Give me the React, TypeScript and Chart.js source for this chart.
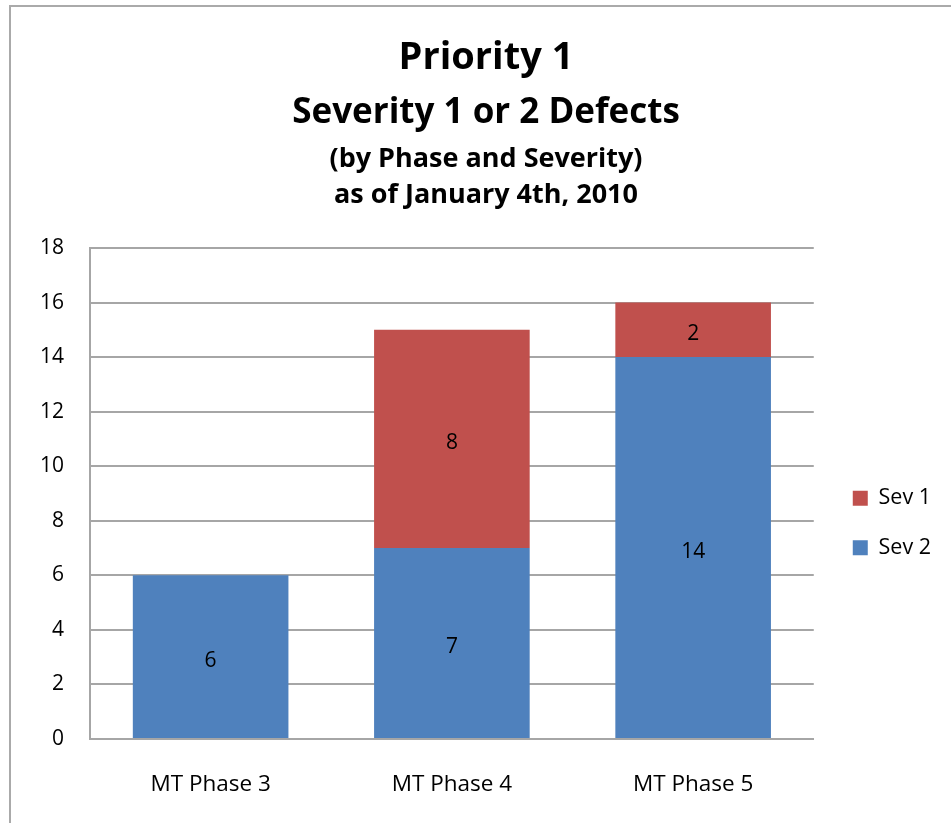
import React, { useEffect, useRef } from "react";
import { Chart, registerables } from "chart.js";

Chart.register(...registerables);

// ---- Data ----
const categories = ["MT Phase 3", "MT Phase 4", "MT Phase 5"];
const sev2Values: (number | null)[] = [6, 7, 14];
const sev1Values: (number | null)[] = [null, 8, 2];
const seriesNames = ["Sev 2", "Sev 1"];
const seriesColors = ["#4F81BD", "#C0504D"];
const titleLines = [
  "Priority 1",
  "Severity 1 or 2 Defects",
  "(by Phase and Severity)",
  "as of January 4th, 2010",
];
const yMin = 0;
const yMax = 18;
const yStep = 2;

const FONT = "'Open Sans', Lato, sans-serif";
const GRID = "#a6a6a6";

const titlePlugin = {
  id: "multiTitle",
  afterDraw(chart: any, _args: any, opts: any) {
    const ctx = chart.ctx;
    ctx.save();
    ctx.fillStyle = "#000";
    ctx.textAlign = "center";
    ctx.textBaseline = "alphabetic";
    opts.lines.forEach((line: string, i: number) => {
      ctx.font = `bold ${opts.sizes[i]}px ${FONT}`;
      ctx.fillText(line, chart.width / 2, opts.baselines[i]);
    });
    ctx.restore();
  },
};

const valueLabelPlugin = {
  id: "valueLabels",
  afterDatasetsDraw(chart: any, _args: any, opts: any) {
    const ctx = chart.ctx;
    ctx.save();
    ctx.font = `${opts.size}px ${FONT}`;
    ctx.fillStyle = "#000";
    ctx.textAlign = "center";
    ctx.textBaseline = "middle";
    chart.data.datasets.forEach((ds: any, di: number) => {
      const meta = chart.getDatasetMeta(di);
      if (meta.hidden) return;
      meta.data.forEach((el: any, i: number) => {
        const v = ds.data[i];
        if (v == null || v === 0) return;
        const p = el.getProps(["x", "y", "base"], true);
        ctx.fillText(String(v), p.x, (p.y + p.base) / 2 + opts.offset);
      });
    });
    ctx.restore();
  },
};

export default function App() {
  const canvasRef = useRef<HTMLCanvasElement | null>(null);

  useEffect(() => {
    if (!canvasRef.current) return;
    const chart = new Chart(canvasRef.current, {
      type: "bar",
      data: {
        labels: categories,
        datasets: [
          {
            label: seriesNames[0],
            data: sev2Values,
            backgroundColor: seriesColors[0],
            barPercentage: 0.645,
            categoryPercentage: 1,
          },
          {
            label: seriesNames[1],
            data: sev1Values,
            backgroundColor: seriesColors[1],
            barPercentage: 0.645,
            categoryPercentage: 1,
          },
        ],
      },
      options: {
        responsive: false,
        animation: false,
        devicePixelRatio: 1,
        layout: { padding: { top: 241, left: 0, right: 20, bottom: 39 } },
        plugins: {
          title: { display: false },
          tooltip: { enabled: false },
          legend: {
            position: "right",
            reverse: true,
            labels: {
              boxWidth: 15,
              boxHeight: 15,
              padding: 28,
              color: "#000",
              font: { family: FONT, size: 21.5 },
            },
          },
          multiTitle: {
            lines: titleLines,
            sizes: [38, 35, 27, 27],
            baselines: [62, 116, 160, 196],
          },
          valueLabels: { size: 21, offset: 4 },
        } as any,
        scales: {
          x: {
            stacked: true,
            grid: { display: false, drawTicks: false },
            border: { display: true, color: GRID, width: 2 },
            ticks: { color: "#000", font: { family: FONT, size: 22.5 }, padding: 32 },
            afterFit(s: any) {
              s.height = 59;
            },
          },
          y: {
            stacked: true,
            min: yMin,
            max: yMax,
            ticks: { stepSize: yStep, color: "#000", font: { family: FONT, size: 21 }, padding: 26 },
            grid: { color: GRID, lineWidth: 2, drawTicks: false },
            border: { display: true, color: GRID, width: 2 },
            afterFit(s: any) {
              s.width = 79;
            },
          },
          gap: {
            type: "linear",
            position: "right",
            display: true,
            grid: { display: false, drawTicks: false },
            border: { display: false },
            ticks: { display: false },
            afterFit(s: any) {
              s.width = 11;
            },
          },
        } as any,
      },
      plugins: [titlePlugin, valueLabelPlugin],
    });
    return () => chart.destroy();
  }, []);

  return (
    <div
      style={{
        position: "absolute",
        left: 9,
        top: 5,
        width: 950,
        height: 830,
        border: "2px solid #aaaaaa",
        background: "#fff",
      }}
    >
      <canvas ref={canvasRef} width={950} height={830} style={{ display: "block" }} />
    </div>
  );
}
